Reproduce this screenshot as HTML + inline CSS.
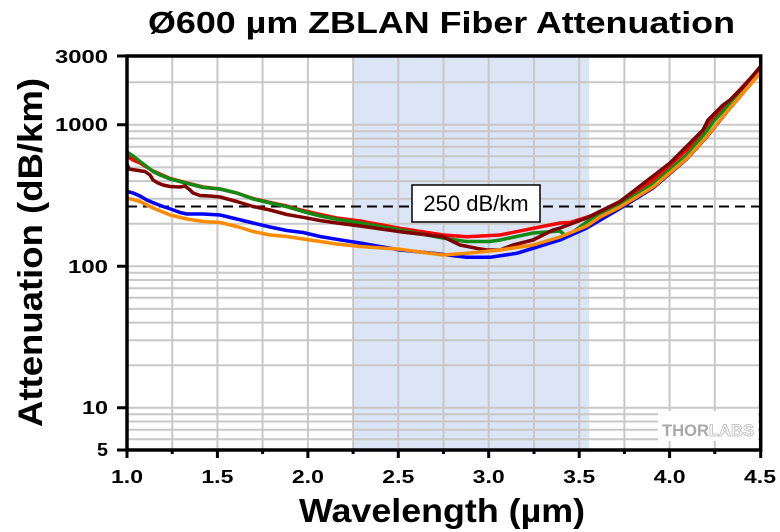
<!DOCTYPE html>
<html>
<head>
<meta charset="utf-8">
<style>
html,body{margin:0;padding:0;background:#fff;}
svg{display:block;}
text{font-family:"Liberation Sans",Arial,sans-serif;}
</style>
</head>
<body>
<svg width="780" height="532" viewBox="0 0 780 532" xmlns="http://www.w3.org/2000/svg">
<rect x="0" y="0" width="780" height="532" fill="#fff"/>
<!-- shaded region -->
<rect x="352.7" y="56" width="236.3" height="394" fill="#dce5f5"/>
<!-- grid -->
<g stroke="#c8c8c8" stroke-width="2" fill="none">
<path d="M127 439.2H760M127 429.7H760M127 421.5H760M127 414.3H760M127 407.8H760M127 365.2H760M127 340.3H760M127 322.6H760M127 308.9H760M127 297.7H760M127 288.2H760M127 280H760M127 272.8H760M127 266.3H760M127 223.7H760M127 198.8H760M127 181.1H760M127 167.4H760M127 156.2H760M127 146.7H760M127 138.5H760M127 131.3H760M127 124.8H760M127 82.2H760"/>
<path d="M172.2 56V450M217.4 56V450M262.6 56V450M307.9 56V450M353.1 56V450M398.3 56V450M443.5 56V450M488.7 56V450M534 56V450M579.2 56V450M624.4 56V450M669.6 56V450M714.8 56V450"/>
</g>
<!-- watermark -->
<rect x="658" y="411" width="100" height="30" fill="#fff"/>
<text x="662" y="436" font-size="17" font-weight="bold" fill="#a8a8a8" textLength="92" lengthAdjust="spacingAndGlyphs">THOR<tspan fill="#fff" stroke="#b8b8b8" stroke-width="0.8">LABS</tspan></text>
<!-- dashed line -->
<line x1="127" y1="206.5" x2="760" y2="206.5" stroke="#000" stroke-width="2" stroke-dasharray="10,6"/>
<!-- curves -->
<g fill="none" stroke-width="3.5" stroke-linejoin="round" stroke-linecap="round">
<polyline stroke="#ff0000" points="127,156 133,160 140,163 153,171 170,178.5 186.7,183 203,187 220,189 236.7,193 253,198.5 270,202.5 286.7,206 303,210.5 320,214.5 336.7,218 360,221 400,228.3 443,235 466.7,236.7 500,235 533,228.3 560,223 570,222.5 600,213 620,203 653,180 686.7,150 706.7,127 726.7,104 760,68"/>
<polyline stroke="#138a13" points="127,152 133,156 140,161.5 146,166 153,171.5 160,175 170,179 186.7,183.3 203,187.5 220,189 236.7,193 253,199 270,203 286.7,206.7 303,211.5 320,216 336.7,219.3 360,223 400,230 443,238 466,241.5 490,241.5 500,240 533,233 560,231 566,236 570,234 586.7,222 600,215 620,205 653,184 686.7,155 706.7,131 713,122 726.7,107 740,92 760,70"/>
<polyline stroke="#0000ff" points="127,191.5 133,193 140,196 146.7,200 155,203.5 163,206.5 172,209.5 180,212.5 186.7,214 203,214 220,215 236.7,219 253,223 270,227 286.7,230.5 303,232.5 320,236.5 336.7,239.3 360,243 400,250 433,253.3 466.7,257.3 490,257.3 516.7,253.3 533,248.3 560,240 586.7,228 620,208.5 653,188 686.7,159 706.7,137 726.7,112 760,73"/>
<polyline stroke="#800000" points="127,164 129,169 135,170 145,171.5 150,175 153,180 158,183 163,185 170,186.5 180,187 185,186 190,190 193,193 200,195.5 210,196 220,197 236.7,201.5 253,206.5 270,210 286.7,214.5 303,217.3 320,220.5 336.7,223 360,226 400,231.7 443,236.7 460,245 476.7,248.3 486.7,250 500,250 513,245 533,240 553,230 560,228 586.7,218 620,201.5 670,163 703,130 708,120 713,115 723,105 730,100 745,85 760,67"/>
<polyline stroke="#ff8c00" points="127,198 140,201.5 153,208 170,215 186.7,219 203,221.5 220,222.5 236.7,226.5 253,231.5 270,235 286.7,236.5 303,239 320,241.5 336.7,244 360,246.5 400,249.3 420,252 443,255 466.7,253.3 500,250 533,245 560,237 586.7,226 600,217 620,207 653,187 686.7,158.5 706.7,136.5 726.7,111.7 760,73"/>
</g>
<!-- label box -->
<rect x="412" y="185" width="128" height="37" fill="#fff" stroke="#000" stroke-width="1.5"/>
<text x="476" y="211" font-size="22" text-anchor="middle" fill="#000">250 dB/km</text>
<!-- frame -->
<rect x="127" y="56" width="633.7" height="394" fill="none" stroke="#000" stroke-width="3.5"/>
<!-- ticks -->
<g stroke="#000" stroke-width="3">
<path d="M117 56H127M117 124.8H127M117 266.3H127M117 407.8H127M117 450H127"/>
<path d="M127 450V458M217.4 450V458M307.9 450V458M398.3 450V458M488.7 450V458M579.2 450V458M669.6 450V458M760.7 450V458"/>
<path d="M172.2 450V454M262.6 450V454M353.1 450V454M443.5 450V454M534 450V454M624.4 450V454M714.8 450V454"/>
</g>
<!-- y tick labels -->
<g font-size="18" font-weight="bold" fill="#000">
<text x="55" y="63" textLength="53" lengthAdjust="spacingAndGlyphs">3000</text>
<text x="55" y="131" textLength="53" lengthAdjust="spacingAndGlyphs">1000</text>
<text x="68" y="273" textLength="40" lengthAdjust="spacingAndGlyphs">100</text>
<text x="82" y="414" textLength="26" lengthAdjust="spacingAndGlyphs">10</text>
<text x="97" y="456" textLength="11" lengthAdjust="spacingAndGlyphs">5</text>
</g>
<!-- x tick labels -->
<g font-size="18" font-weight="bold" fill="#000">
<text x="111" y="483" textLength="32" lengthAdjust="spacingAndGlyphs">1.0</text>
<text x="201.4" y="483" textLength="32" lengthAdjust="spacingAndGlyphs">1.5</text>
<text x="291.9" y="483" textLength="32" lengthAdjust="spacingAndGlyphs">2.0</text>
<text x="382.3" y="483" textLength="32" lengthAdjust="spacingAndGlyphs">2.5</text>
<text x="472.7" y="483" textLength="32" lengthAdjust="spacingAndGlyphs">3.0</text>
<text x="563.2" y="483" textLength="32" lengthAdjust="spacingAndGlyphs">3.5</text>
<text x="653.6" y="483" textLength="32" lengthAdjust="spacingAndGlyphs">4.0</text>
<text x="744" y="483" textLength="32" lengthAdjust="spacingAndGlyphs">4.5</text>
</g>
<!-- titles -->
<text x="148" y="33" font-size="31" font-weight="bold" fill="#000" textLength="587" lengthAdjust="spacingAndGlyphs">Ø600 µm ZBLAN Fiber Attenuation</text>
<text x="299" y="522" font-size="33" font-weight="bold" fill="#000" textLength="286" lengthAdjust="spacingAndGlyphs">Wavelength (µm)</text>
<text transform="translate(42,427) rotate(-90)" x="0" y="0" font-size="34" font-weight="bold" fill="#000" textLength="349" lengthAdjust="spacingAndGlyphs">Attenuation (dB/km)</text>
</svg>
</body>
</html>
